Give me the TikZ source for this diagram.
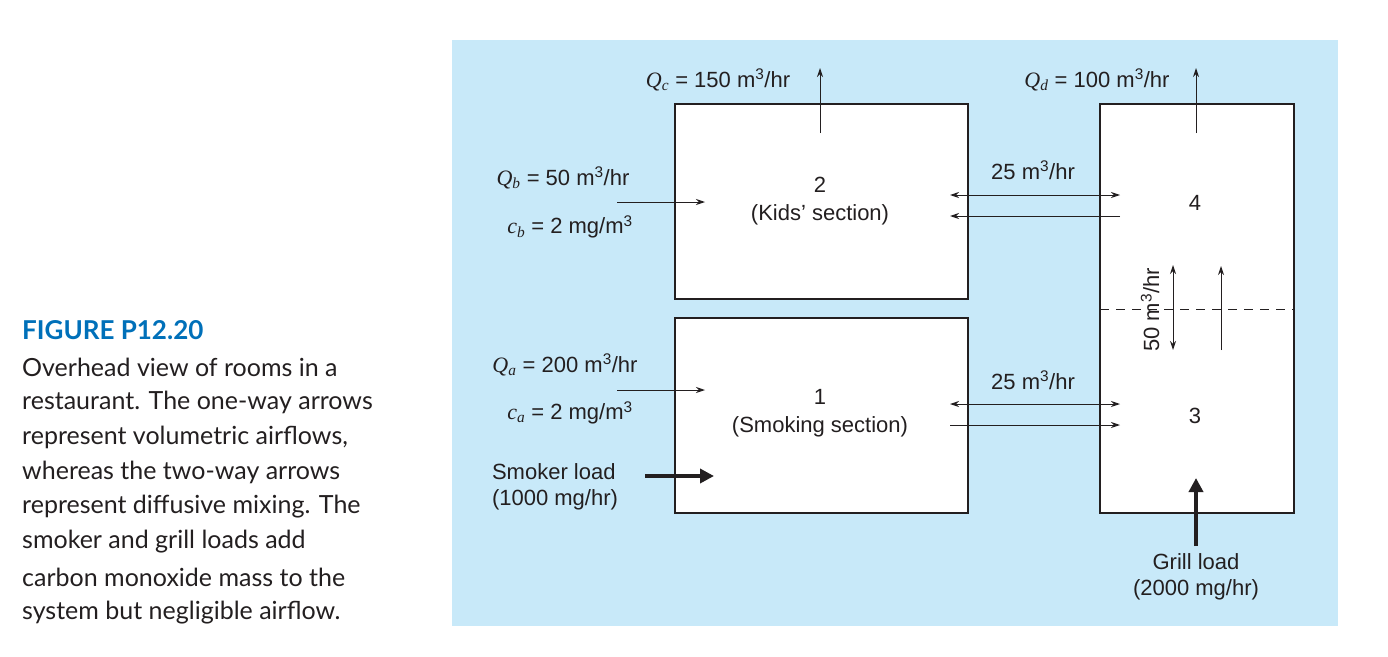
\documentclass[tikz,border=0pt]{standalone}
\usepackage{fontspec}
\setmainfont{Liberation Sans}
\newfontfamily\capfont{Lato}
\newfontfamily\qfont{Liberation Serif}
\usetikzlibrary{arrows.meta}
\definecolor{bgblue}{RGB}{200,233,249}
\definecolor{figblue}{RGB}{0,112,185}
\definecolor{ink}{RGB}{35,31,32}
\newcommand{\qv}[1]{{\qfont\itshape #1}}
\newcommand{\sq}[2]{\qv{#1}\textsubscript{\qv{#2}}}
\newcommand{\cub}{\textsuperscript{3}}
\begin{document}
\begin{tikzpicture}[x=1pt,y=-1pt,
  room/.style={draw=ink,line width=1.3pt,fill=white},
  lbl/.style={font=\fontsize{22}{26}\selectfont,text=ink,inner sep=0pt},
  flow/.style={draw=ink,line width=1pt,-{Stealth[length=9pt,width=6pt]}},
  diff/.style={draw=ink,line width=1pt,{Stealth[length=9pt,width=6pt]}-{Stealth[length=9pt,width=6pt]}},
  load/.style={draw=ink,line width=4pt,-{Triangle[length=14pt,width=14pt]}},
  captext/.style={font=\capfont\fontsize{25}{35}\selectfont,anchor=west,inner sep=0pt,text=ink}]
\useasboundingbox (0,0) rectangle (1388,656);
\fill[bgblue] (452,40) rectangle (1338,626);
\draw[room] (675,104) rectangle (968,299);
\draw[room] (675,318) rectangle (968,513);
\draw[room] (1100,104) rectangle (1294,513);
\draw[ink,line width=1pt,dash pattern=on 9pt off 7pt] (1100,309) -- (1294,309);
% top outflows
\node[lbl] (qc) at (718,80) {\sq{Q}{c} = 150 m\cub/hr};
\coordinate (qc1) at (820,133); \coordinate (qc2) at (820,68);
\draw[flow] (qc1) -- (qc2);
\node[lbl] (qd) at (1097,80) {\sq{Q}{d} = 100 m\cub/hr};
\coordinate (qd1) at (1196,133); \coordinate (qd2) at (1196,68);
\draw[flow] (qd1) -- (qd2);
% room 2
\node[lbl] (qb) at (563,178) {\sq{Q}{b} = 50 m\cub/hr};
\node[lbl] (cb) at (570,227) {\sq{c}{b} = 2 mg/m\cub};
\coordinate (b1) at (617,202); \coordinate (b2) at (705,202);
\draw[flow] (b1) -- (b2);
\node[lbl] (r2) at (820,185) {2};
\node[lbl] (r2n) at (820,215) {(Kids' section)};
\node[lbl] (d24) at (1033,170) {25 m\cub/hr};
\coordinate (a1) at (950,195); \coordinate (a2) at (1120,195);
\coordinate (a3) at (1120,216); \coordinate (a4) at (950,216);
\draw[diff] (a1) -- (a2);
\draw[flow] (a3) -- (a4);
\node[lbl] (r4) at (1195,203) {4};
% between 3 and 4
\node[lbl,rotate=90] (d34) at (1150,310) {50 m\cub/hr};
\coordinate (v1) at (1173,265); \coordinate (v2) at (1173,350);
\coordinate (v3) at (1221,350); \coordinate (v4) at (1221,266);
\draw[diff] (v1) -- (v2);
\draw[flow] (v3) -- (v4);
% room 1
\node[lbl] (qa) at (565,365) {\sq{Q}{a} = 200 m\cub/hr};
\node[lbl] (ca) at (570,413) {\sq{c}{a} = 2 mg/m\cub};
\coordinate (c1) at (617,390); \coordinate (c2) at (705,390);
\draw[flow] (c1) -- (c2);
\node[lbl,align=left] (sm) at (555,487) {Smoker load\\(1000 mg/hr)};
\coordinate (s1) at (645,476); \coordinate (s2) at (714,476);
\draw[load] (s1) -- (s2);
\node[lbl] (r1) at (820,397) {1};
\node[lbl] (r1n) at (820,427) {(Smoking section)};
\node[lbl] (d13) at (1033,380) {25 m\cub/hr};
\coordinate (e1) at (950,404); \coordinate (e2) at (1120,404);
\coordinate (e3) at (950,425); \coordinate (e4) at (1120,425);
\draw[diff] (e1) -- (e2);
\draw[flow] (e3) -- (e4);
\node[lbl] (r3) at (1195,416) {3};
% grill
\coordinate (g1) at (1196,546); \coordinate (g2) at (1196,478);
\draw[load] (g1) -- (g2);
\node[lbl,align=center] (gl) at (1196,577) {Grill load\\(2000 mg/hr)};
% caption
\node[captext,font=\capfont\bfseries\fontsize{26}{30}\selectfont,text=figblue] (fig) at (22,330) {FIGURE P12.20};
\node[captext] (l1) at (22,367) {Overhead view of rooms in a};
\node[captext] (l2) at (22,402) {restaurant. The one-way arrows};
\node[captext] (l3) at (22,437) {represent volumetric airflows,};
\node[captext] (l4) at (22,472) {whereas the two-way arrows};
\node[captext] (l5) at (22,507) {represent diffusive mixing. The};
\node[captext] (l6) at (22,542) {smoker and grill loads add};
\node[captext] (l7) at (22,577) {carbon monoxide mass to the};
\node[captext] (l8) at (22,613) {system but negligible airflow.};
\end{tikzpicture}
\end{document}
